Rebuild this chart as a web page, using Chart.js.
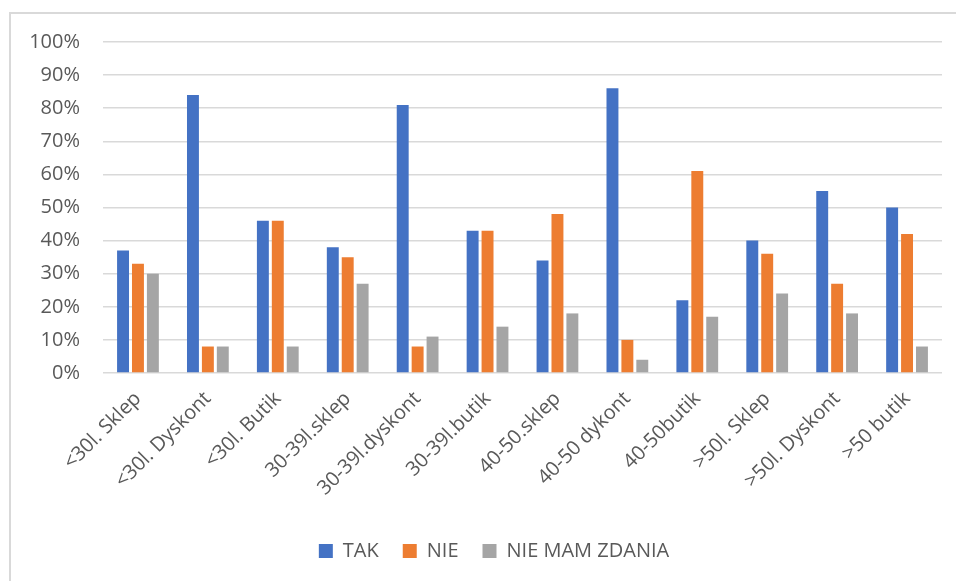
<!DOCTYPE html>
<html lang="pl">

<head>
    <meta charset="UTF-8">
    <title>TAK / NIE</title>
    <script src="https://cdn.jsdelivr.net/npm/chart.js"></script>
    <style>
        html, body {
            margin: 0;
            padding: 0;
            background: #fff;
        }

        .wrap {
            position: relative;
            width: 956px;
            height: 581px;
            overflow: hidden;
        }

        /* cropped Excel chart border */
        .frame {
            position: absolute;
            left: 9px;
            top: 12px;
            width: 960px;
            height: 600px;
            border-top: 2px solid #d9d9d9;
            border-left: 2px solid #d9d9d9;
        }

        canvas {
            position: absolute;
            left: 0;
            top: 0;
        }
    </style>
</head>

<body>
    <div class="wrap">
        <div class="frame"></div>
        <canvas id="chart" width="956" height="581"></canvas>
    </div>

    <script>
        // Data
        const categories = ['<30l. Sklep', '<30l. Dyskont', '<30l. Butik', '30-39l.sklep', '30-39l.dyskont', '30-39l.butik',
            '40-50.sklep', '40-50 dykont', '40-50butik', '>50l. Sklep', '>50l. Dyskont', '>50 butik'];
        const tak = [37, 84, 46, 38, 81, 43, 34, 86, 22, 40, 55, 50];
        const nie = [33, 8, 46, 35, 8, 43, 48, 10, 61, 36, 27, 42];
        const nieMamZdania = [30, 8, 8, 27, 11, 14, 18, 4, 17, 24, 18, 8];
        const seriesNames = ['TAK', 'NIE', 'NIE MAM ZDANIA'];
        const colors = ['#4472C4', '#ED7D31', '#A5A5A5'];

        const FONT = '"Open Sans", sans-serif';
        const TEXT = '#595959';

        // Excel centres the legend a bit to the right, shift it after layout
        const legendShift = {
            id: 'legendShift',
            afterLayout(chart) {
                chart.legend.left += 23;
                chart.legend.right += 23;
            }
        };

        const ctx = document.getElementById('chart').getContext('2d');

        new Chart(ctx, {
            type: 'bar',
            data: {
                labels: categories,
                datasets: [tak, nie, nieMamZdania].map((d, i) => ({
                    label: seriesNames[i],
                    data: d,
                    backgroundColor: colors[i],
                    borderWidth: 0,
                    categoryPercentage: 0.64,
                    barPercentage: 0.8
                }))
            },
            options: {
                responsive: false,
                animation: false,
                layout: {
                    padding: { left: 0, right: 14, top: 42, bottom: 10 }
                },
                plugins: {
                    tooltip: { enabled: false },
                    legend: {
                        position: 'bottom',
                        labels: {
                            boxWidth: 14,
                            boxHeight: 14,
                            padding: 24,
                            color: TEXT,
                            font: { family: FONT, size: 20 }
                        }
                    }
                },
                scales: {
                    x: {
                        grid: { display: false, drawTicks: false },
                        border: { display: false },
                        ticks: {
                            minRotation: 45,
                            maxRotation: 45,
                            padding: 14,
                            color: TEXT,
                            font: { family: FONT, size: 20 }
                        },
                        afterFit: (scale) => { scale.height = 144; }
                    },
                    y: {
                        min: 0,
                        max: 100,
                        grid: { color: '#d9d9d9', lineWidth: 1.5, drawTicks: false },
                        border: { display: false },
                        ticks: {
                            stepSize: 10,
                            padding: 23,
                            color: TEXT,
                            font: { family: FONT, size: 20 },
                            callback: (v) => v + '%'
                        },
                        afterFit: (scale) => { scale.width = 103; }
                    }
                }
            },
            plugins: [legendShift]
        });
    </script>
</body>

</html>
